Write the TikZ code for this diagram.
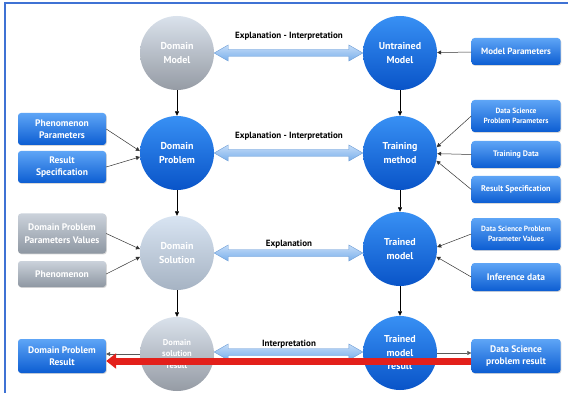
\documentclass[tikz,border=0pt]{standalone}
\usepackage{fontspec}
\setmainfont{PT Sans}
\usetikzlibrary{arrows.meta,calc,shadows}
\pgfdeclarelayer{fg}
\pgfsetlayers{main,fg}
\definecolor{bluetop}{HTML}{3890F4}
\definecolor{bluebot}{HTML}{0954C8}
\definecolor{boxtop}{HTML}{5EA5F6}
\definecolor{boxbot}{HTML}{0C5DD2}
\definecolor{graytop}{HTML}{DAE2EC}
\definecolor{graybot}{HTML}{959BA4}
\definecolor{lgraytop}{HTML}{D8E4F2}
\definecolor{lgraybot}{HTML}{A6B3C3}
\definecolor{gboxtop}{HTML}{CBD2DB}
\definecolor{gboxbot}{HTML}{8E97A2}
\definecolor{arrA}{HTML}{C4DDF8}
\definecolor{arrB}{HTML}{79AEEB}
\definecolor{arrE}{HTML}{6A9BD6}
\definecolor{framecol}{HTML}{3F72D4}
\definecolor{redarr}{HTML}{E3201B}
\tikzset{
  circ/.style={circle, minimum size=74pt, inner sep=0pt, align=center, text=white,
    font=\bfseries\fontsize{10}{13.5}\selectfont},
  bluecirc/.style={circ, top color=bluetop, bottom color=bluebot},
  graycirc/.style={circ, top color=graytop, bottom color=graybot},
  lgraycirc/.style={circ, top color=lgraytop, bottom color=lgraybot},
  boxbase/.style={rounded corners=3pt, inner sep=1pt, align=center, text=white,
    font=\bfseries\fontsize{9.5}{12.5}\selectfont,
    drop shadow={shadow xshift=0.8pt, shadow yshift=-0.9pt, opacity=0.3}},
  lbox/.style={boxbase, minimum width=88pt},
  rbox/.style={boxbase, minimum width=89pt},
  bluebox/.style={top color=boxtop, bottom color=boxbot},
  graybox/.style={top color=gboxtop, bottom color=gboxbot},
  small/.style={font=\bfseries\fontsize{7.5}{9.5}\selectfont},
  conn/.style={draw=black!80, line width=0.5pt, -{Triangle[length=4pt,width=4pt]}},
  vconn/.style={draw=black, line width=0.6pt, -{Triangle[length=4.5pt,width=4pt]}},
  dblstyle/.style={top color=arrA, bottom color=arrB, draw=arrE, line width=0.4pt},
  lbl/.style={font=\bfseries\fontsize{9}{10.5}\selectfont, text=black}
}
\newcommand\dblarrow[2]{%
  \path let \p1=(#1.east), \p2=(#2.west) in [dblstyle]
    (\x1,\y1) -- (\x1+14pt,\y1+8pt) -- (\x1+14pt,\y1+3.5pt) -- (\x2-14pt,\y1+3.5pt)
    -- (\x2-14pt,\y1+8pt) -- (\x2,\y1) -- (\x2-14pt,\y1-8pt) -- (\x2-14pt,\y1-3.5pt)
    -- (\x1+14pt,\y1-3.5pt) -- (\x1+14pt,\y1-8pt) -- cycle;}
\begin{document}
\begin{tikzpicture}[x=1pt,y=-1pt]
\useasboundingbox (0,0) rectangle (568,393);
\fill[white] (0,0) rectangle (568,393);
\draw[framecol, line width=2pt] (5,393) -- (5,3.5) -- (568,3.5);

% circles
\node[graycirc] (dm) at (177,53) {Domain\\Model};
\node[bluecirc] (um) at (400,53) {Untrained\\Model};
\node[bluecirc] (dp) at (177,153) {Domain\\Problem};
\node[bluecirc] (tm) at (400,153) {Training\\method};
\node[lgraycirc] (ds) at (177,253) {Domain\\Solution};
\node[bluecirc] (trm) at (400,249) {Trained\\model};
\node[graycirc, font=\bfseries\fontsize{8.5}{11.5}\selectfont] (dsr) at (177,354) {Domain\\solution\\result};
\node[bluecirc] (tmr) at (400,353) {Trained\\model\\result};

% vertical arrows
\draw[vconn] (dm) -- (dp);
\draw[vconn] (dp) -- (ds);
\draw[vconn] (ds) -- (dsr);
\draw[vconn] (um) -- (tm);
\draw[vconn] (tm) -- (trm);
\draw[vconn] (trm) -- (tmr);

% double arrows
\dblarrow{dm}{um}
\dblarrow{dp}{tm}
\dblarrow{ds}{trm}
\path let \p1=(dsr.east), \p2=(tmr.west) in [dblstyle]
    (\x1,\y1+2pt) -- (\x1+14pt,\y1+10pt) -- (\x1+14pt,\y1+5.5pt) -- (\x2-14pt,\y1+5.5pt)
    -- (\x2-14pt,\y1+10pt) -- (\x2,\y1+2pt) -- (\x2-14pt,\y1-6pt) -- (\x2-14pt,\y1-1.5pt)
    -- (\x1+14pt,\y1-1.5pt) -- (\x1+14pt,\y1-6pt) -- cycle;

\node[lbl] (l1) at (289,36) {Explanation - Interpretation};
\node[lbl] (l2) at (289,136) {Explanation - Interpretation};
\node[lbl] (l3) at (289,244) {Explanation};
\node[lbl] (l4) at (289,344) {Interpretation};

% boxes
\node[rbox, bluebox, minimum height=27pt, font=\bfseries\fontsize{9}{10.5}\selectfont] (mp) at (516,51.5) {Model Parameters};
\node[lbox, bluebox, minimum height=32pt] (php) at (62,129) {Phenomenon\\Parameters};
\node[lbox, bluebox, minimum height=32pt] (rs1) at (62,167) {Result\\Specification};
\node[rbox, bluebox, small, minimum height=32pt] (dspp) at (516,116) {Data Science\\Problem Parameters};
\node[rbox, bluebox, minimum height=27pt, font=\bfseries\fontsize{8}{9.5}\selectfont] (td) at (516,154.5) {Training Data};
\node[rbox, bluebox, minimum height=27pt, font=\bfseries\fontsize{8.3}{9.5}\selectfont] (rs2) at (516,189.5) {Result Specification};
\node[lbox, graybox, minimum height=40pt] (dppv) at (62,233.5) {Domain Problem\\Parameters Values};
\node[lbox, graybox, minimum height=26pt] (phen) at (62,274) {Phenomenon};
\node[rbox, bluebox, small, minimum height=32pt] (dsppv) at (516,234) {Data Science Problem\\Parameter Values};
\node[rbox, bluebox, minimum height=28pt] (inf) at (516,277) {Inference data};
\node[lbox, bluebox, minimum height=34pt] (dpres) at (62,356) {Domain Problem\\Result};
\begin{pgfonlayer}{fg}
\node[rbox, bluebox, minimum height=34pt] (dsres) at (516,356) {Data Science\\problem result};
\end{pgfonlayer}

% box connectors
\draw[conn] (mp) -- (um);
\draw[conn] (php.east) -- (dp.177);
\draw[conn] (rs1.east) -- (dp.186);
\draw[conn] (dspp.west) -- (tm.9);
\draw[conn] (td.west) -- (tm.-1);
\draw[conn] (rs2.west) -- (tm.-12);
\draw[conn] (dppv.east) -- (ds.174);
\draw[conn] (phen.east) -- (ds.186);
\draw[conn] (dsppv.west) -- (trm.3);
\draw[conn] (inf.west) -- (trm.-12);
\draw[conn, draw=black!65] (dsr.west) -- (dsr.west -| dpres.east);
\draw[conn, draw=black!65] (tmr.east) -- (tmr.east -| dsres.west);

% red arrow
\draw[redarr, line width=7pt, -{Triangle[length=10pt,width=15pt]}]
  ($(dsres.west)+(0,5)$) -- ($(dpres.east)+(0,5)$);
\end{tikzpicture}
\end{document}
